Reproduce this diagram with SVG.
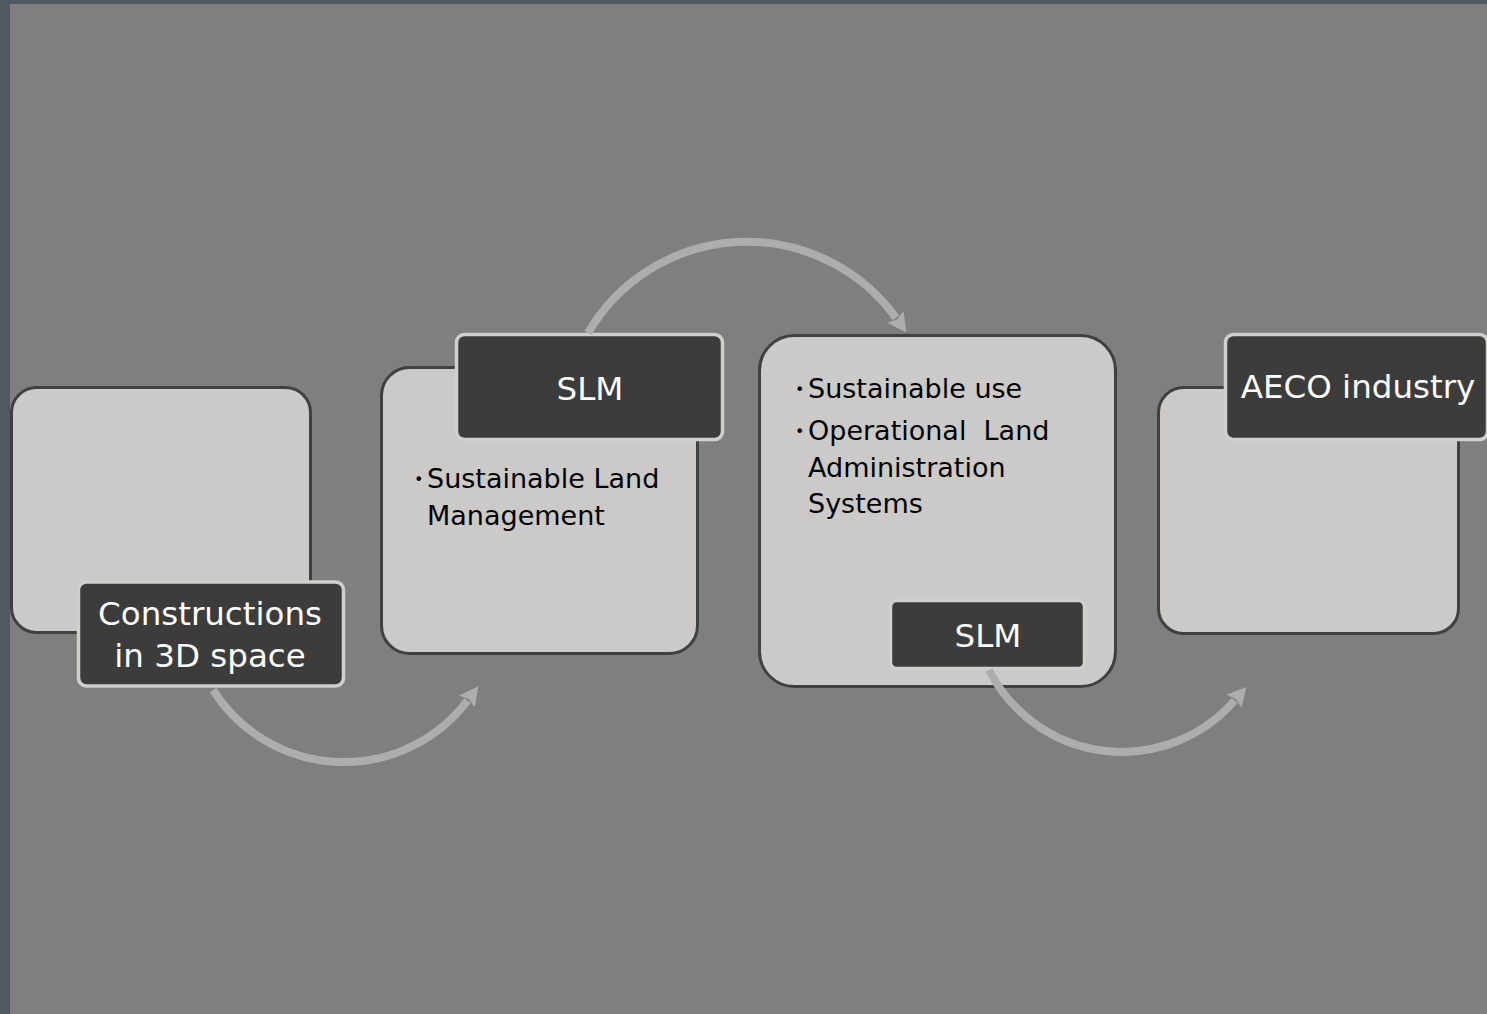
<svg xmlns="http://www.w3.org/2000/svg" width="1487" height="1014" viewBox="0 0 1487 1014">
<style>
.body{fill:#cbcac8;stroke:#404040;stroke-width:3}
.lbl{fill:#3c3c3c;stroke:#d0cfcc;stroke-width:3.5}
.lt{font-family:"Comic Sans MS","DejaVu Sans",sans-serif;font-size:32.5px;fill:#ffffff;text-anchor:middle}
.bt{font-family:"Comic Sans MS","DejaVu Sans",sans-serif;font-size:27px;fill:#000000}
.bu{font-size:16px}
.arc{fill:none;stroke:#adadad;stroke-width:8}
</style>
<defs>
<marker id="ah" markerUnits="userSpaceOnUse" viewBox="0 -11 19 22" markerWidth="19" markerHeight="22" refX="1" refY="0" orient="auto">
<path d="M0,-10 L19,0 L0,10 L3,0 z" fill="#adadad"/>
</marker>
</defs>
<rect x="0" y="0" width="1487" height="1014" fill="#525861"/>
<rect x="10" y="4" width="1477" height="1010" fill="#7f7f7f"/>

<g id="node1">
<rect class="body" x="11.5" y="387.5" width="299" height="245" rx="25"/>
<rect class="lbl" x="78.5" y="582" width="265" height="104" rx="8"/>
<text class="lt" x="210" y="625">Constructions</text>
<text class="lt" x="210" y="667">in 3D space</text>
</g>

<g id="node2">
<rect class="body" x="381.5" y="367.5" width="316" height="286" rx="28"/>
<rect class="lbl" x="456.5" y="334.5" width="266" height="105" rx="8"/>
<text class="lt" x="590" y="400">SLM</text>
<text class="bt" x="414" y="488"><tspan class="bu" dy="-3">•</tspan><tspan x="427" dy="3">Sustainable Land</tspan></text>
<text class="bt" x="427" y="525">Management</text>
</g>

<g id="node3">
<rect class="body" x="759.5" y="335.5" width="356" height="351" rx="35"/>
<rect class="lbl" x="890.5" y="600.5" width="194" height="68" rx="6"/>
<text class="lt" x="988" y="647">SLM</text>
<text class="bt" x="795" y="398"><tspan class="bu" dy="-3">•</tspan><tspan x="808" dy="3">Sustainable use</tspan></text>
<text class="bt" x="795" y="440"><tspan class="bu" dy="-3">•</tspan><tspan x="808" dy="3">Operational&#160; Land</tspan></text>
<text class="bt" x="808" y="477">Administration</text>
<text class="bt" x="808" y="513">Systems</text>
</g>

<g id="node4">
<rect class="body" x="1158.5" y="387.5" width="300" height="246" rx="25"/>
<rect class="lbl" x="1225.5" y="334.5" width="262" height="105" rx="8"/>
<text class="lt" x="1358" y="398">AECO industry</text>
</g>

<g id="connectors">
<path class="arc" d="M213,690 A155,155 0 0 0 467.5,700.7" marker-end="url(#ah)"/>
<path class="arc" d="M588,333 A184,184 0 0 1 895.9,317.8" marker-end="url(#ah)"/>
<path class="arc" d="M989,670 A149,149 0 0 0 1234.6,700.5" marker-end="url(#ah)"/>
</g>
</svg>
